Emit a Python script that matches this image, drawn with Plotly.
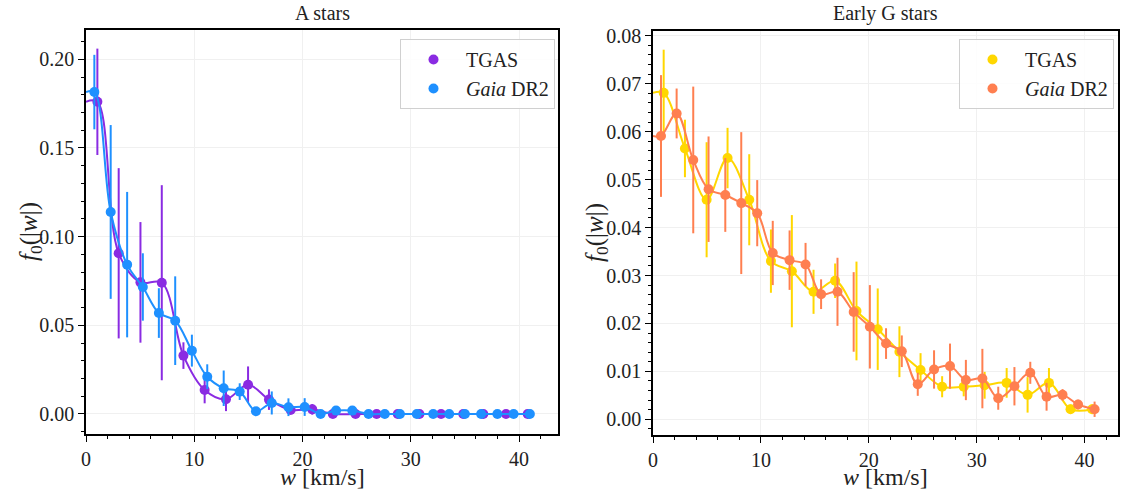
import plotly.graph_objects as go

# ---------------- data: A stars ----------------
tgas_A_x = [1.05, 3.02, 5.03, 7.0, 9.0, 10.96, 12.93, 14.97, 16.9, 18.9, 20.9,
            22.8, 24.9, 26.85, 28.8, 30.8, 32.8, 34.85, 36.7, 38.8, 40.8]
tgas_A_y = [0.176, 0.0906, 0.0742, 0.074, 0.0329, 0.0135, 0.0083, 0.0165, 0.0081, 0.0023, 0.0026,
            0.0, 0.0, 0.0, 0.0, 0.0, 0.0, 0.0, 0.0, 0.0, 0.0]
tgas_A_err = [0.030, 0.048, 0.034, 0.055, 0.0075, 0.0075, 0.0067, 0.0103, 0.0058, 0.002, 0.003,
              0.0, 0.0, 0.0, 0.0, 0.0, 0.0, 0.0, 0.0, 0.0, 0.0]

dr2_A_x = [0.77, 2.28, 3.8, 5.25, 6.73, 8.24, 9.78, 11.2, 12.72, 14.2, 15.7, 17.16, 18.7, 20.2,
           21.67, 23.1, 24.6, 26.1, 27.6, 29.0, 30.56, 32.07, 33.55, 35.0, 36.5, 38.0, 39.5, 41.0]
dr2_A_y = [0.1815, 0.1139, 0.0842, 0.0716, 0.0569, 0.0526, 0.0357, 0.021, 0.0145, 0.0126, 0.0015,
           0.0062, 0.0038, 0.0039, 0.0, 0.0019, 0.0019, 0.0, 0.0, 0.0, 0.0, 0.0, 0.0, 0.0, 0.0,
           0.0, 0.0, 0.0]
dr2_A_err = [0.021, 0.049, 0.041, 0.019, 0.014, 0.025, 0.009, 0.007, 0.01, 0.0047, 0.001,
             0.0065, 0.005, 0.005, 0.0, 0.001, 0.001, 0.0, 0.0, 0.0, 0.0, 0.0, 0.0, 0.0, 0.0,
             0.0, 0.0, 0.0]

# ---------------- data: Early G stars ----------------
tgas_G_x = [0.99, 2.96, 4.97, 6.91, 8.92, 10.93, 12.87, 14.88, 16.88, 18.86, 20.83, 22.84,
            24.8, 26.8, 28.8, 30.74, 32.78, 34.72, 36.7, 38.7, 40.7]
tgas_G_y = [0.0681, 0.0565, 0.0458, 0.0545, 0.0458, 0.033, 0.0309, 0.0266, 0.0289, 0.0226,
            0.0188, 0.0141, 0.0103, 0.0068, 0.0068, 0.0071, 0.0076, 0.0051, 0.0076, 0.0021, 0.0021]
tgas_G_err = [0.009, 0.006, 0.012, 0.0063, 0.0095, 0.0066, 0.0117, 0.0046, 0.0036, 0.0103,
              0.0085, 0.0053, 0.0035, 0.0022, 0.002, 0.0028, 0.0031, 0.0037, 0.0031, 0.001, 0.001]

dr2_G_x = [0.74, 2.19, 3.73, 5.15, 6.7, 8.18, 9.66, 11.1, 12.66, 14.14, 15.58, 17.1, 18.6, 20.1,
           21.6, 23.06, 24.54, 26.05, 27.53, 29.0, 30.53, 32.0, 33.5, 34.97, 36.48, 37.96, 39.4, 40.93]
dr2_G_y = [0.0591, 0.0638, 0.0541, 0.048, 0.0468, 0.0451, 0.043, 0.0347, 0.0332, 0.0323, 0.0261,
           0.0266, 0.0224, 0.0193, 0.0158, 0.0142, 0.0073, 0.0104, 0.0111, 0.0082, 0.0085, 0.0044,
           0.0069, 0.0097, 0.0047, 0.0051, 0.0031, 0.0021]
dr2_G_err = [0.0127, 0.0052, 0.0153, 0.011, 0.0077, 0.0148, 0.0069, 0.0067, 0.0062, 0.0045, 0.0031,
             0.0071, 0.0083, 0.0087, 0.0032, 0.0033, 0.0024, 0.004, 0.0047, 0.0042, 0.0062, 0.0024,
             0.004, 0.0023, 0.0029, 0.0012, 0.001, 0.0016]

panel_titles = ["A stars", "Early G stars"]
series_names = ["TGAS", "<i>Gaia</i> DR2"]
x_title = "<i>w</i> [km/s]"
y_title = "<i>f</i><sub>0</sub>(|<i>w</i>|)"

C_PURPLE = "#8A2BE2"
C_BLUE = "#1E90FF"
C_GOLD = "#FFD700"
C_CORAL = "#FF7F50"

FONT = "Liberation Serif"
TXT = "#222222"
W, H = 1125, 493

fig = go.Figure()


def add_series(x, y, err, color, name, xa, ya, legend):
    # smooth line, extended flat to w = 0
    fig.add_trace(go.Scatter(
        x=[0] + list(x), y=[y[0]] + list(y), mode="lines",
        line=dict(color=color, width=2, shape="spline", smoothing=1.0),
        xaxis=xa, yaxis=ya, showlegend=False, hoverinfo="skip"))
    fig.add_trace(go.Scatter(
        x=x, y=y, mode="markers", name=name,
        marker=dict(color=color, size=10),
        error_y=dict(type="data", array=err, visible=True, color=color,
                     thickness=2, width=0),
        xaxis=xa, yaxis=ya, legend=legend))


add_series(tgas_A_x, tgas_A_y, tgas_A_err, C_PURPLE, series_names[0], "x", "y", "legend")
add_series(dr2_A_x, dr2_A_y, dr2_A_err, C_BLUE, series_names[1], "x", "y", "legend")
add_series(tgas_G_x, tgas_G_y, tgas_G_err, C_GOLD, series_names[0], "x2", "y2", "legend2")
add_series(dr2_G_x, dr2_G_y, dr2_G_err, C_CORAL, series_names[1], "x2", "y2", "legend2")

# pixel geometry
L1, R1 = 86, 558
L2, R2 = 653, 1118
T, B = 30, 434


def px(v):
    return v / W


def py(v):
    return 1 - v / H


axis_common = dict(
    showline=True, linecolor="black", linewidth=1.5, mirror=True,
    ticks="outside", ticklen=6, tickwidth=1.2, tickcolor="black",
    showgrid=True, gridcolor="#f0f0f0", gridwidth=1,
    zeroline=False, automargin=False,
    tickfont=dict(family=FONT, size=20, color=TXT),
    minor=dict(ticks="outside", ticklen=3, tickwidth=1, tickcolor="black", showgrid=False),
)

legend_common = dict(
    xanchor="right", yanchor="top",
    bgcolor="rgba(255,255,255,0.85)", bordercolor="#d0d0d0", borderwidth=1,
    font=dict(family=FONT, size=20, color=TXT), itemwidth=55, tracegroupgap=0,
)

fig.update_layout(
    width=W, height=H,
    margin=dict(l=0, r=0, t=0, b=0, autoexpand=False),
    paper_bgcolor="white", plot_bgcolor="white",
    font=dict(family=FONT, color=TXT),
    showlegend=True,
    xaxis=dict(domain=[px(L1), px(R1)], range=[0, 43.6], anchor="y",
               tickvals=[0, 10, 20, 30, 40], minor_dtick=2, **axis_common),
    yaxis=dict(domain=[py(B), py(T)], range=[-0.0113, 0.2165], anchor="x",
               tickvals=[0.0, 0.05, 0.10, 0.15, 0.20], tickformat=".2f", minor_dtick=0.01,
               **axis_common),
    xaxis2=dict(domain=[px(L2), px(R2)], range=[0, 43.1], anchor="y2",
                tickvals=[0, 10, 20, 30, 40], minor_dtick=2, **axis_common),
    yaxis2=dict(domain=[py(B + 1), py(T + 1)], range=[-0.00327, 0.081], anchor="x2",
                tickvals=[0.0, 0.01, 0.02, 0.03, 0.04, 0.05, 0.06, 0.07, 0.08],
                tickformat=".2f", minor_dtick=0.002, **axis_common),
    legend=dict(x=px(555), y=py(39), **legend_common),
    legend2=dict(x=px(1114), y=py(39), **legend_common),
)

for (l, r, t, b), title in zip([(L1, R1, T, B), (L2, R2, T + 1, B + 1)], panel_titles):
    cx = (l + r) / 2
    fig.add_annotation(text=title, x=px(cx), y=py(13), xref="paper", yref="paper",
                       showarrow=False, xanchor="center", yanchor="middle",
                       font=dict(family=FONT, size=20, color=TXT))
    fig.add_annotation(text=x_title, x=px(cx), y=py(477), xref="paper", yref="paper",
                       showarrow=False, xanchor="center", yanchor="middle",
                       font=dict(family=FONT, size=24, color=TXT))
    fig.add_annotation(text=y_title, x=px(l - 56), y=py((t + b) / 2), xref="paper", yref="paper",
                       showarrow=False, xanchor="center", yanchor="middle", textangle=-90,
                       font=dict(family=FONT, size=25, color=TXT))

fig.write_html("out.html",
               config={"displayModeBar": False},
               post_script="document.body.style.margin='0px';document.body.style.overflow='hidden';")
